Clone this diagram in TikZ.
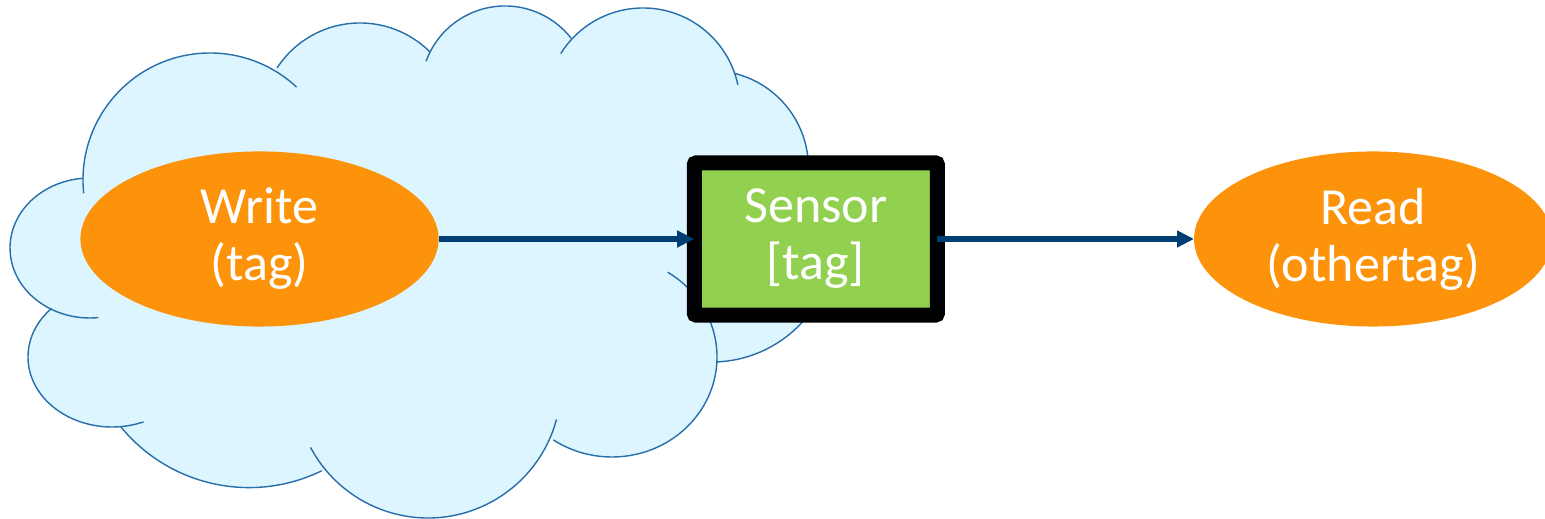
\documentclass[tikz,border=0pt]{standalone}
\usepackage{fontspec}
\setmainfont{Carlito}
\usetikzlibrary{arrows.meta, positioning, shapes.geometric}

\definecolor{cloudfill}{RGB}{221,245,254}
\definecolor{cloudline}{RGB}{40,110,170}
\definecolor{tagorange}{RGB}{252,147,10}
\definecolor{sensorgreen}{RGB}{146,208,80}
\definecolor{flowblue}{RGB}{0,61,115}

% puffs of the cloud: centre x/centre y/x radius/y radius/start angle/end angle
\def\puffs{210/339/127/127/186/47, 360/397/99/99/147/45, 505/429/84/84/160/38,
  643/414/97/97/148/12, 711/351/97.5/97.5/76/-30, 712/279/122/122/30/-88,
  612/162/105/100/58/-124, 428/134/133/133/-15/-152, 249/197/165.6/165.6/-141/-64,
  112/162/84/70/136/292, 90/271/80/70/276/95}

\begin{document}
\begin{tikzpicture}[
  x=0.01cm, y=0.01cm,
  puff/.style={draw=cloudline, line width=0.4pt},
  tagnode/.style={ellipse, fill=tagorange, text=white, minimum width=3.58cm, minimum height=1.75cm, inner sep=0pt, outer sep=0pt, align=center, font=\fontsize{14.8}{16.2}\selectfont},
  sensorbox/.style={rectangle, draw=black, line width=0.15cm, fill=sensorgreen, rounded corners=0.02cm, minimum width=2.43cm, minimum height=1.52cm, outer sep=0pt, text=white, align=center, font=\fontsize{14.8}{16.2}\selectfont},
  arrow/.style={-{Triangle[length=0.17cm, width=0.16cm]}, draw=flowblue, line width=1.6pt},
]
\useasboundingbox (0,0) rectangle (1545,519);

% Cloud: fill all puffs first, then stroke their outer arcs
\fill[cloudfill] (420,269) ellipse [x radius=300, y radius=150];
\foreach \cx/\cy/\rx/\ry/\a/\b in \puffs {
  \fill[cloudfill] (\cx,\cy) ellipse [x radius=\rx, y radius=\ry];
}
\foreach \cx/\cy/\rx/\ry/\a/\b in \puffs {
  \draw[puff] ([shift={({\rx*cos(\a)},{\ry*sin(\a)})}]\cx,\cy) arc [start angle=\a, end angle=\b, x radius=\rx, y radius=\ry];
}

% Writer, sensor and reader
\node[tagnode] (write) at (259.5,280) {Write\\(tag)};
\node[sensorbox, right=2.555cm of write] (sensor) {Sensor\\{}[tag]};
\node[tagnode, right=2.565cm of sensor] (read) {Read\\(othertag)};

% Data flow
\draw[arrow] (write) -- (sensor);
\draw[arrow] (sensor) -- (read);

\end{tikzpicture}
\end{document}
